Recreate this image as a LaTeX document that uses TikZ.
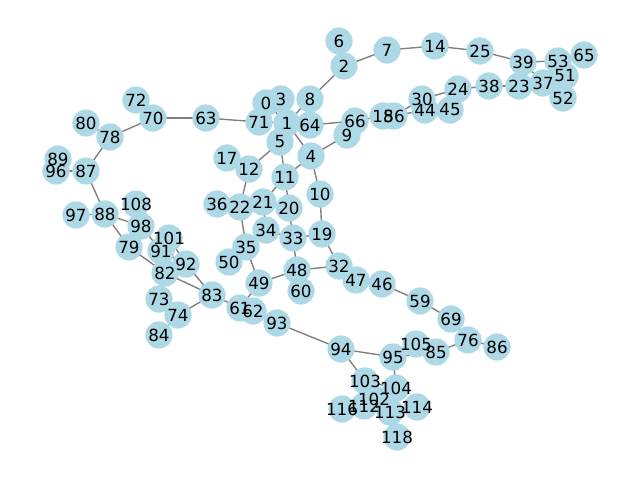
\documentclass[tikz,border=0pt]{standalone}
\usepackage{fontspec}
\setmainfont{DejaVu Sans}
\pgfdeclarelayer{background}
\pgfsetlayers{background,main}
\begin{document}
\begin{tikzpicture}[x=1pt,y=-1pt,
  dot/.style={circle,fill=nodeblue,draw=none,minimum size=27.2pt,inner sep=0pt},
  lbl/.style={inner sep=0pt,font=\fontsize{16.7}{20}\selectfont,text=black},
  edge/.style={draw=edgegray,line width=1.39pt}]
\definecolor{nodeblue}{HTML}{ADD8E6}
\definecolor{edgegray}{HTML}{808080}
\useasboundingbox (0,0) rectangle (640,480);
\foreach \n/\x/\y in {
 6/339/41, 2/344/66, 7/387/50, 14/435/46, 25/480/51, 39/523/62, 53/558/61, 65/584/55,
 51/565/76, 37/543/83, 23/519/86, 52/563/98, 38/489/86, 24/458/89, 30/422/99, 44/425/110,
 45/450/110, 18/383/116, 56/394/116, 66/355/121, 9/347/135, 8/310/99, 0/266/103, 3/281/99,
 71/259/122, 1/287/123, 64/310/125, 5/280/142, 4/311/156, 12/249/169, 17/227/158, 11/285/177,
 10/320/194, 20/289/208, 21/263/202, 22/240/207, 36/217/204, 34/266/230, 33/293/238, 19/322/234,
 35/246/247, 50/229/262, 48/297/270, 32/339/266, 47/356/280, 46/382/284, 60/301/291, 49/259/283,
 61/240/308, 62/253/311, 93/277/323, 83/212/295, 59/420/301, 69/451/319, 76/468/340, 86/497/347,
 105/416/344, 85/436/352, 95/393/357, 94/341/349, 103/365/381, 104/396/388, 102/374/399,
 112/364/406, 116/342/409, 113/390/412, 114/417/407, 118/397/437,
 72/136/100, 70/153/118, 63/206/118, 80/86/123, 78/110/137, 89/58/159, 96/56/171, 87/86/171,
 88/105/214, 97/76/215, 108/136/204, 98/141/226, 79/129/247, 101/169/238, 91/161/251,
 92/186/264, 82/165/273, 73/159/299, 74/178/315, 84/159/335}
 {\node[dot] (n\n) at (\x,\y) {};}
\begin{pgfonlayer}{background}
\foreach \a/\b in {2/7, 2/8, 7/14, 14/25, 25/39, 39/53, 39/37, 53/65, 23/38, 38/24, 24/30,
 30/56, 44/56, 66/18, 64/66, 4/9, 1/4, 1/71, 1/8, 0/1, 63/71, 70/63, 70/78, 78/80, 78/87,
 87/96, 87/88, 88/97, 88/98, 88/79, 98/91, 91/92, 101/92, 92/83, 79/82, 82/83, 74/83, 74/84,
 83/61, 49/61, 62/93, 93/94, 94/95, 94/103, 95/104, 95/85, 85/76, 76/86, 76/69, 69/59, 59/46,
 46/47, 32/48, 32/19, 19/10, 10/4, 19/33, 33/34, 33/20, 33/48, 20/11, 11/21, 11/4, 11/5,
 5/12, 12/22, 22/35, 35/49, 34/21, 48/49, 103/104}
 {\draw[edge] (n\a.center) -- (n\b.center);}
\end{pgfonlayer}
\foreach \n in {6,2,7,14,25,39,53,65,51,37,23,52,38,24,30,44,45,18,56,66,9,8,0,3,71,1,64,5,4,
 12,17,11,10,20,21,22,36,34,33,19,35,50,48,32,47,46,60,49,61,62,93,83,59,69,76,86,105,85,95,
 94,103,104,102,112,116,113,114,118,72,70,63,80,78,89,96,87,88,97,108,98,79,101,91,92,82,73,74,84}
 {\node[lbl] (t\n) at (n\n) {\n};}
\end{tikzpicture}
\end{document}
